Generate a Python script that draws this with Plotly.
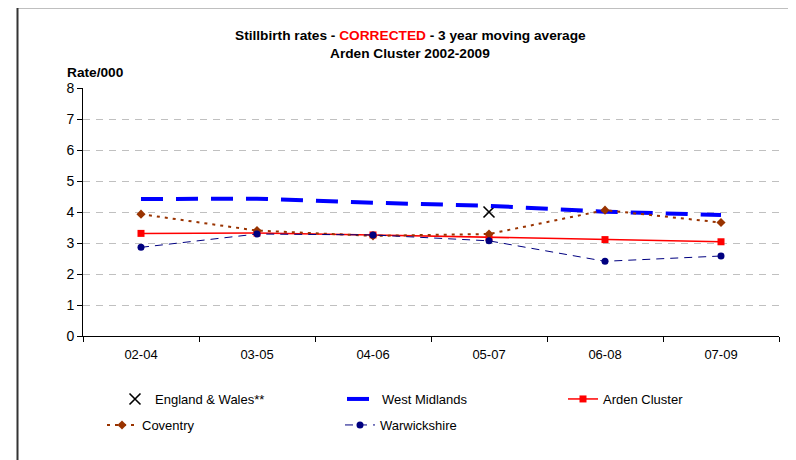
import plotly.graph_objects as go

periods = ["02-04", "03-05", "04-06", "05-07", "06-08", "07-09"]
england_wales = [None, None, None, 4.0, None, None]
west_midlands = [4.42, 4.43, 4.30, 4.20, 4.01, 3.90]
arden_cluster = [3.31, 3.32, 3.26, 3.18, 3.11, 3.04]
coventry = [3.93, 3.40, 3.23, 3.29, 4.06, 3.66]
warwickshire = [2.86, 3.29, 3.26, 3.07, 2.41, 2.58]

FONT = "Liberation Sans, Arial, sans-serif"

fig = go.Figure()
fig.add_trace(go.Scatter(
    x=periods, y=england_wales, name="England & Wales**", mode="markers", legend="legend",
    marker=dict(symbol="x-thin", size=11, color="black", line=dict(width=1.6, color="black"))))
fig.add_trace(go.Scatter(
    x=periods, y=west_midlands, name="West Midlands", mode="lines", legend="legend2",
    line=dict(color="#0000FF", width=4, dash="22px,13px")))
fig.add_trace(go.Scatter(
    x=periods, y=arden_cluster, name="Arden Cluster", mode="lines+markers", legend="legend3",
    line=dict(color="#FF0000", width=1.5),
    marker=dict(symbol="square", size=7, color="#FF0000")))
fig.add_trace(go.Scatter(
    x=periods, y=coventry, name="Coventry", mode="lines+markers", legend="legend4",
    line=dict(color="#993300", width=2, dash="3px,5px"),
    marker=dict(symbol="diamond", size=7, color="#993300")))
fig.add_trace(go.Scatter(
    x=periods, y=warwickshire, name="Warwickshire", mode="lines+markers", legend="legend5",
    line=dict(color="#000080", width=1, dash="8px,6px"),
    marker=dict(symbol="circle", size=7, color="#000080")))

# page body has an 8px offset; plot area on screen: x 83..779, y 88..336
OFF = 8
W, H = 796, 460
SX0, SX1, SY0, SY1 = 83, 779, 88, 336
L, T = SX0 - OFF, SY0 - OFF
R, B = W - (SX1 - OFF), H - (SY1 - OFF)
pw, ph = SX1 - SX0, SY1 - SY0

def px(x):
    return (x - SX0) / pw

def py(y):
    return (SY1 - y) / ph

def leg(x, y):
    return dict(orientation="h", x=px(x), y=py(y), xanchor="left", yanchor="top",
                font=dict(family=FONT, size=13), itemsizing="trace",
                bgcolor="rgba(0,0,0,0)")

fig.update_layout(
    width=W, height=H,
    margin=dict(l=L, r=R, t=T, b=B, autoexpand=False),
    paper_bgcolor="white", plot_bgcolor="white",
    font=dict(family=FONT, size=13, color="black"),
    showlegend=True,
    legend=leg(115, 384),
    legend2=leg(342, 384),
    legend3=leg(563, 384),
    legend4=leg(102, 410),
    legend5=leg(340, 410),
    xaxis=dict(type="category", range=[-0.5, len(periods) - 0.5],
               showline=True, linecolor="black", linewidth=1,
               ticks="outside", ticklen=5, tickcolor="black", tickson="boundaries",
               ticklabelstandoff=6,
               showgrid=False, zeroline=False, tickfont=dict(size=13), automargin=False),
    yaxis=dict(range=[0, 8], dtick=1, showline=True, linecolor="black", linewidth=1,
               ticks="outside", ticklen=5, tickcolor="black",
               showgrid=True, gridcolor="#c0c0c0", griddash="7px,6px", gridwidth=1,
               zeroline=False, tickfont=dict(size=14), automargin=False),
    annotations=[
        dict(text="<b>Stillbirth rates - <span style='color:#FF0000'>CORRECTED</span> - 3 year moving average</b>",
             xref="paper", yref="paper", x=px(410), y=py(36), showarrow=False,
             xanchor="center", yanchor="middle", font=dict(size=13.7)),
        dict(text="<b>Arden Cluster 2002-2009</b>",
             xref="paper", yref="paper", x=px(410), y=py(53), showarrow=False,
             xanchor="center", yanchor="middle", font=dict(size=13.7)),
        dict(text="<b>Rate/000</b>",
             xref="paper", yref="paper", x=px(95), y=py(73), showarrow=False,
             xanchor="center", yanchor="middle", font=dict(size=13.7)),
    ],
    shapes=[
        dict(type="line", xref="paper", yref="paper", x0=px(17), x1=px(810), y0=py(7.5), y1=py(7.5),
             line=dict(color="black", width=1.5)),
        dict(type="line", xref="paper", yref="paper", x0=px(17.5), x1=px(17.5), y0=py(7), y1=py(480),
             line=dict(color="#333333", width=2)),
    ],
)

fig.write_html("out.html")
